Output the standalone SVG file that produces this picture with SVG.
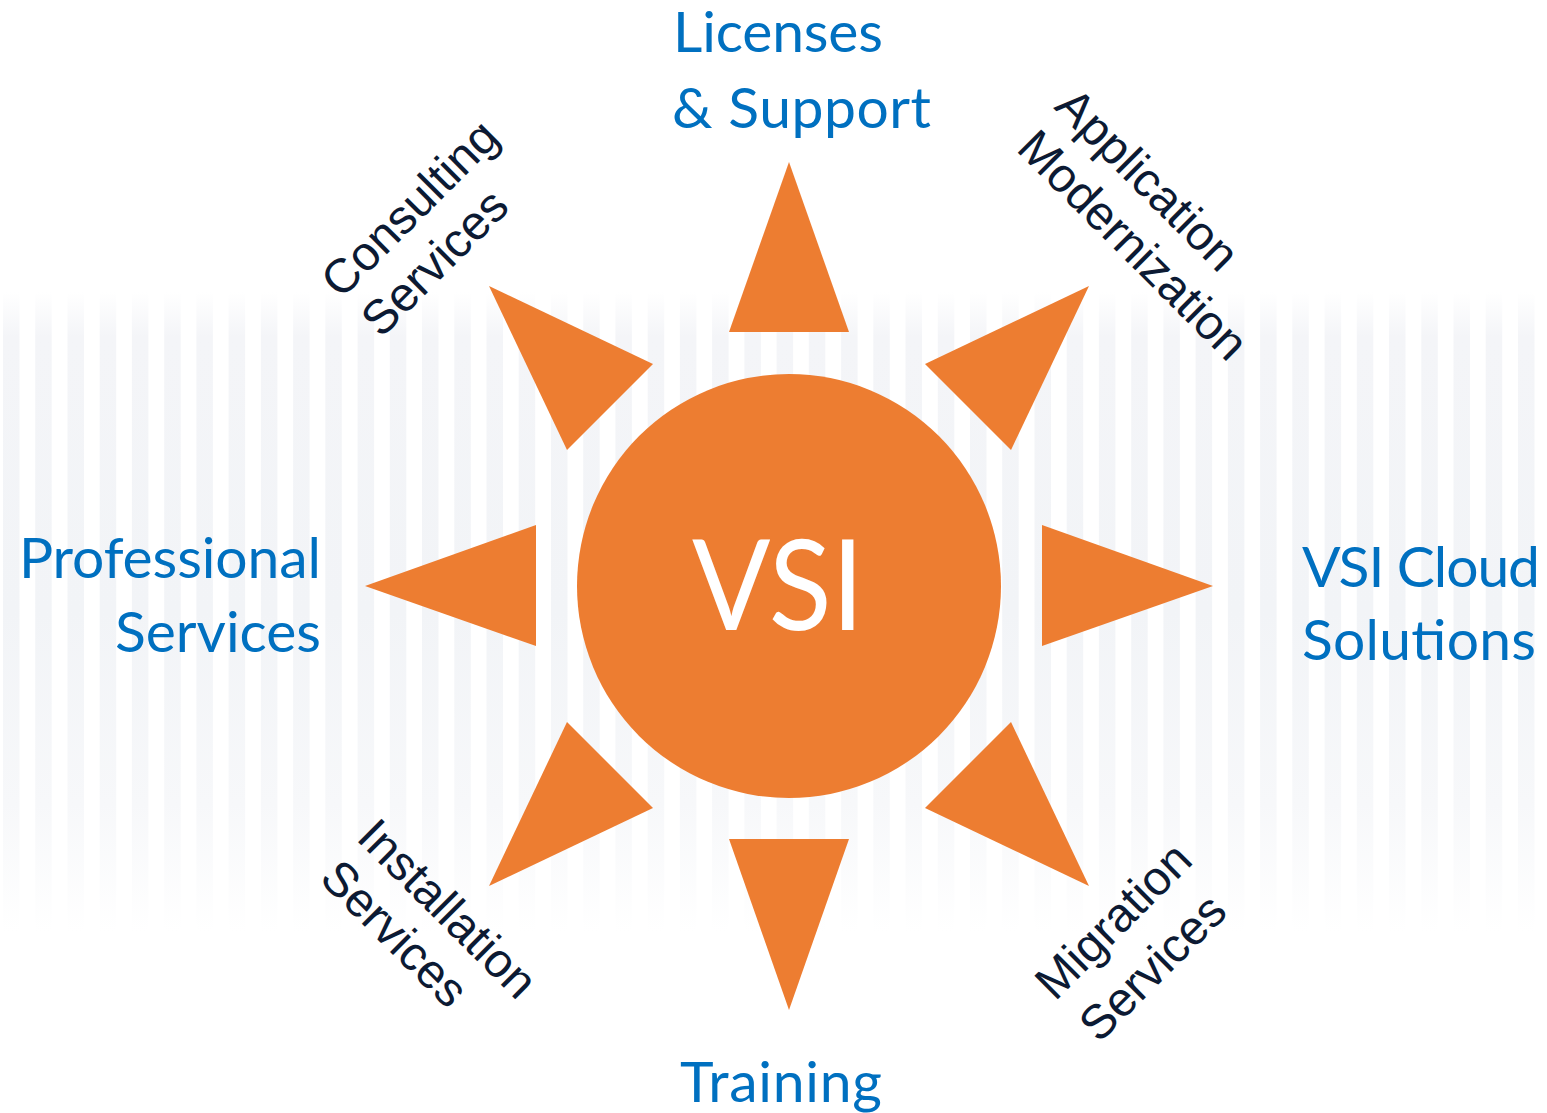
<svg xmlns="http://www.w3.org/2000/svg" width="1547" height="1113" viewBox="0 0 1547 1113">
<defs>
<linearGradient id="sg" gradientUnits="userSpaceOnUse" x1="0" y1="292" x2="0" y2="932">
<stop offset="0" stop-color="#ffffff"/>
<stop offset="0.07" stop-color="#f4f5f8"/>
<stop offset="0.5" stop-color="#f2f4f7"/>
<stop offset="0.8" stop-color="#f7f8fa"/>
<stop offset="1" stop-color="#ffffff"/>
</linearGradient>
<style>
.st{fill:url(#sg)}
.ray{fill:#ED7D31}
.blue{font-family:Lato,"Open Sans",sans-serif;font-size:57px;fill:#0070C0}
.dark{font-family:"Liberation Sans",Arial,sans-serif;font-size:48px;fill:#0c1a33}
</style>
</defs>
<rect width="1547" height="1113" fill="#ffffff"/>
<g id="stripes">
<rect class="st" x="3" y="292" width="16.5" height="640"/>
<rect class="st" x="35.2" y="292" width="16.5" height="640"/>
<rect class="st" x="67.5" y="292" width="16.5" height="640"/>
<rect class="st" x="99.7" y="292" width="16.5" height="640"/>
<rect class="st" x="131.9" y="292" width="16.5" height="640"/>
<rect class="st" x="164.2" y="292" width="16.5" height="640"/>
<rect class="st" x="196.4" y="292" width="16.5" height="640"/>
<rect class="st" x="228.6" y="292" width="16.5" height="640"/>
<rect class="st" x="260.9" y="292" width="16.5" height="640"/>
<rect class="st" x="293.1" y="292" width="16.5" height="640"/>
<rect class="st" x="325.3" y="292" width="16.5" height="640"/>
<rect class="st" x="357.6" y="292" width="16.5" height="640"/>
<rect class="st" x="389.8" y="292" width="16.5" height="640"/>
<rect class="st" x="422" y="292" width="16.5" height="640"/>
<rect class="st" x="454.3" y="292" width="16.5" height="640"/>
<rect class="st" x="486.5" y="292" width="16.5" height="640"/>
<rect class="st" x="518.7" y="292" width="16.5" height="640"/>
<rect class="st" x="551" y="292" width="16.5" height="640"/>
<rect class="st" x="583.2" y="292" width="16.5" height="640"/>
<rect class="st" x="615.4" y="292" width="16.5" height="640"/>
<rect class="st" x="647.7" y="292" width="16.5" height="640"/>
<rect class="st" x="679.9" y="292" width="16.5" height="640"/>
<rect class="st" x="712.1" y="292" width="16.5" height="640"/>
<rect class="st" x="744.4" y="292" width="16.5" height="640"/>
<rect class="st" x="776.6" y="292" width="16.5" height="640"/>
<rect class="st" x="808.8" y="292" width="16.5" height="640"/>
<rect class="st" x="841.1" y="292" width="16.5" height="640"/>
<rect class="st" x="873.3" y="292" width="16.5" height="640"/>
<rect class="st" x="905.5" y="292" width="16.5" height="640"/>
<rect class="st" x="937.8" y="292" width="16.5" height="640"/>
<rect class="st" x="970" y="292" width="16.5" height="640"/>
<rect class="st" x="1002.2" y="292" width="16.5" height="640"/>
<rect class="st" x="1034.5" y="292" width="16.5" height="640"/>
<rect class="st" x="1066.7" y="292" width="16.5" height="640"/>
<rect class="st" x="1098.9" y="292" width="16.5" height="640"/>
<rect class="st" x="1131.2" y="292" width="16.5" height="640"/>
<rect class="st" x="1163.4" y="292" width="16.5" height="640"/>
<rect class="st" x="1195.6" y="292" width="16.5" height="640"/>
<rect class="st" x="1227.9" y="292" width="16.5" height="640"/>
<rect class="st" x="1260.1" y="292" width="16.5" height="640"/>
<rect class="st" x="1292.3" y="292" width="16.5" height="640"/>
<rect class="st" x="1324.6" y="292" width="16.5" height="640"/>
<rect class="st" x="1356.8" y="292" width="16.5" height="640"/>
<rect class="st" x="1389" y="292" width="16.5" height="640"/>
<rect class="st" x="1421.3" y="292" width="16.5" height="640"/>
<rect class="st" x="1453.5" y="292" width="16.5" height="640"/>
<rect class="st" x="1485.7" y="292" width="16.5" height="640"/>
<rect class="st" x="1518" y="292" width="16.5" height="640"/>
</g>
<g id="connectors">
<polygon class="ray" points="789,162 729,332 849,332"/>
<polygon class="ray" points="789,1010 729,839 849,839"/>
<polygon class="ray" points="365,586 536,525 536,646"/>
<polygon class="ray" points="1213,586 1042,525 1042,646"/>
<polygon class="ray" points="489,286 653,364 567,450"/>
<polygon class="ray" points="1089,286 925,364 1011,450"/>
<polygon class="ray" points="489,886 653,808 567,722"/>
<polygon class="ray" points="1089,886 925,808 1011,722"/>
</g>
<g id="vsi">
<circle cx="789" cy="586" r="212" fill="#ED7D31"/>
<text x="692" y="630" font-family="Lato,'Open Sans',sans-serif" font-size="126" textLength="172" lengthAdjust="spacingAndGlyphs" fill="#ffffff">VSI</text>
</g>
<g id="licenses-support">
<text class="blue" x="673" y="52" textLength="210">Licenses</text>
<text class="blue" x="672" y="128" textLength="259">&amp; Support</text>
</g>
<g id="professional-services">
<text class="blue" x="321" y="578" text-anchor="end" textLength="302">Professional</text>
<text class="blue" x="321" y="652" text-anchor="end" textLength="206">Services</text>
</g>
<g id="vsi-cloud-solutions">
<text class="blue" x="1302" y="587" textLength="238">VSI Cloud</text>
<text class="blue" x="1302" y="660" textLength="234">Solutions</text>
</g>
<g id="training">
<text class="blue" x="680" y="1102" textLength="202">Training</text>
</g>
<g id="consulting-services">
<text class="dark" transform="translate(341,300) rotate(-45)">Consulting</text>
<text class="dark" transform="translate(381,339) rotate(-45)">Services</text>
</g>
<g id="application-modernization">
<text class="dark" transform="translate(1053,108) rotate(45)">Application</text>
<text class="dark" transform="translate(1015,150) rotate(45)">Modernization</text>
</g>
<g id="installation-services">
<text class="dark" transform="translate(355,839) rotate(45)">Installation</text>
<text class="dark" transform="translate(318,880) rotate(45)">Services</text>
</g>
<g id="migration-services">
<text class="dark" transform="translate(1055,1002) rotate(-45)">Migration</text>
<text class="dark" transform="translate(1099,1044) rotate(-45)">Services</text>
</g>
</svg>
